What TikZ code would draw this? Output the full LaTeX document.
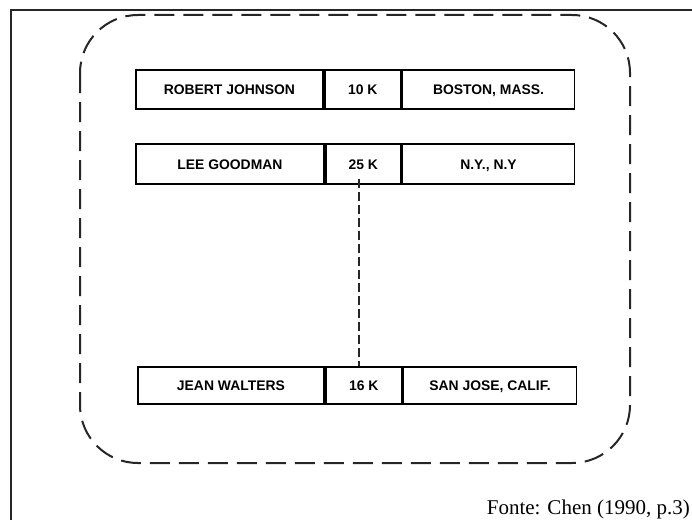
\documentclass[tikz,border=0pt]{standalone}
\usepackage{fontspec}
\setmainfont{Liberation Serif}
\newfontfamily\cellfont{Liberation Sans}
\begin{document}
\begin{tikzpicture}[x=1pt,y=-1pt,
  cell/.style={draw, line width=1.8pt, rectangle, inner sep=0pt, anchor=west,
    text height=10pt, text depth=0pt,
    font=\cellfont\bfseries\fontsize{13.9}{15}\selectfont},
  frame/.style={line width=2.4pt, draw=black!85},
  group/.style={line width=2pt, dash pattern=on 20pt off 9pt, draw=black!85},
  link/.style={line width=2pt, dash pattern=on 9pt off 4pt, draw=black!85}]
\useasboundingbox (0,0) rectangle (692,519);
\clip (0,0) rectangle (692,519);
\draw[frame] (11,10) rectangle (710,540);
\draw[group, rounded corners=58pt] (80,15) rectangle (630,463);
% row 1
\node[cell, minimum width=187pt, minimum height=39pt] (a1) at (135,89.5) {ROBERT JOHNSON};
\node[cell, minimum width=76pt, minimum height=39pt] (b1) at (a1.east) {10 K};
\node[cell, minimum width=172pt, minimum height=39pt] (c1) at (b1.east) {BOSTON, MASS.};
% row 2
\node[cell, minimum width=188pt, minimum height=40pt] (a2) at (135,164) {LEE GOODMAN};
\node[cell, minimum width=75pt, minimum height=40pt] (b2) at (a2.east) {25 K};
\node[cell, minimum width=172pt, minimum height=40pt] (c2) at (b2.east) {N.Y., N.Y};
% row 3
\node[cell, minimum width=186pt, minimum height=37pt] (a3) at (137,385.5) {JEAN WALTERS};
\node[cell, minimum width=76pt, minimum height=37pt] (b3) at (a3.east) {16 K};
\node[cell, minimum width=173pt, minimum height=37pt] (c3) at (b3.east) {SAN JOSE, CALIF.};
% link
\coordinate (l1) at ([xshift=-4pt,yshift=6pt]b2.south);
\coordinate (l2) at (l1 |- b3.north);
\draw[link] (l1) -- (l2);
% source
\node[anchor=base east, inner sep=0pt, font=\fontsize{21}{24}\selectfont] (src) at (690,514) {Fonte: Chen (1990, p.3)};
\end{tikzpicture}
\end{document}
